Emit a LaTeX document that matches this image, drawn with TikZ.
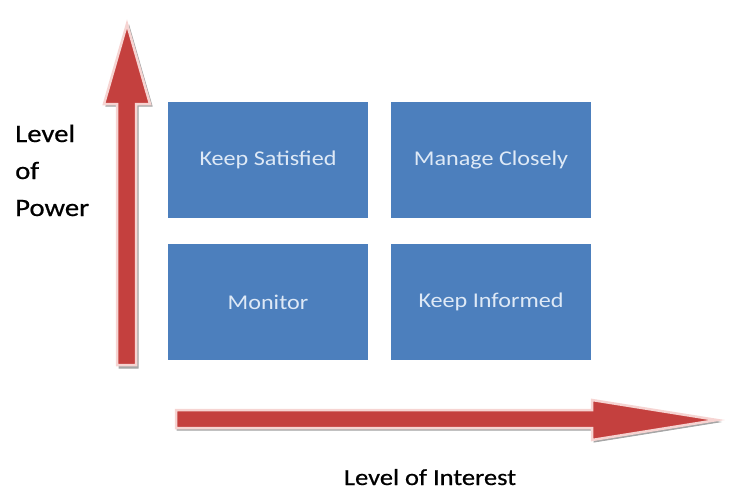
\documentclass[tikz,border=0pt]{standalone}
\usepackage{fontspec}
\setmainfont{Carlito}[FakeStretch=1.15]
\newfontfamily\labelfont{Carlito}[FakeStretch=1.15,FakeBold=0.6]
\definecolor{boxblue}{RGB}{76,127,189}
\definecolor{boxtext}{RGB}{222,233,246}
\definecolor{arrowred}{RGB}{196,64,62}
\definecolor{arrowrim}{RGB}{246,212,210}
\begin{document}
\begin{tikzpicture}[x=1pt,y=-1pt,
    quad/.style={fill=boxblue,text=boxtext,minimum width=200pt,minimum height=116pt,
                 inner sep=0pt,font=\fontsize{21}{25}\selectfont},
    axislabel/.style={text=black,inner sep=0pt},
    redarrow/.style={fill=arrowred,draw=arrowrim,line width=2.5pt,line join=miter},
    arrowshadow/.style={fill=black!35,draw=black!35,line width=1pt}]
    \useasboundingbox (0,0) rectangle (732,493);
    % vertical axis: power
    \draw[arrowshadow] (119,368) -- (138,368) -- (138,106) -- (152,106) -- (129,26) -- (106,106) -- (119,106) -- cycle;
    \draw[redarrow] (117,365) -- (136,365) -- (136,104) -- (150,104) -- (127,24) -- (104,104) -- (117,104) -- cycle;
    % horizontal axis: interest
    \draw[arrowshadow] (177,430) -- (594,430) -- (594,442) -- (719,422) -- (594,402) -- (594,412) -- (177,412) -- cycle;
    \draw[redarrow] (176,428) -- (592,428) -- (592,440) -- (717,420) -- (592,400) -- (592,410) -- (176,410) -- cycle;
    % the four quadrants
    \node[quad] (satisfied) at (268,160) {Keep Satisfied};
    \node[quad] (closely)   at (491,160) {Manage Closely};
    \node[quad] (monitor)   at (268,302) {Monitor};
    \node[quad] (informed)  at (491,302) {Keep Informed};
    % axis labels
    \node[axislabel,anchor=base west,align=left,font=\labelfont\fontsize{25}{37}\selectfont] (power) at (15,216) {Level\\of\\Power};
    \node[axislabel,anchor=base,font=\labelfont\fontsize{23}{28}\selectfont] (interest) at (430,485) {Level of Interest};
\end{tikzpicture}
\end{document}
